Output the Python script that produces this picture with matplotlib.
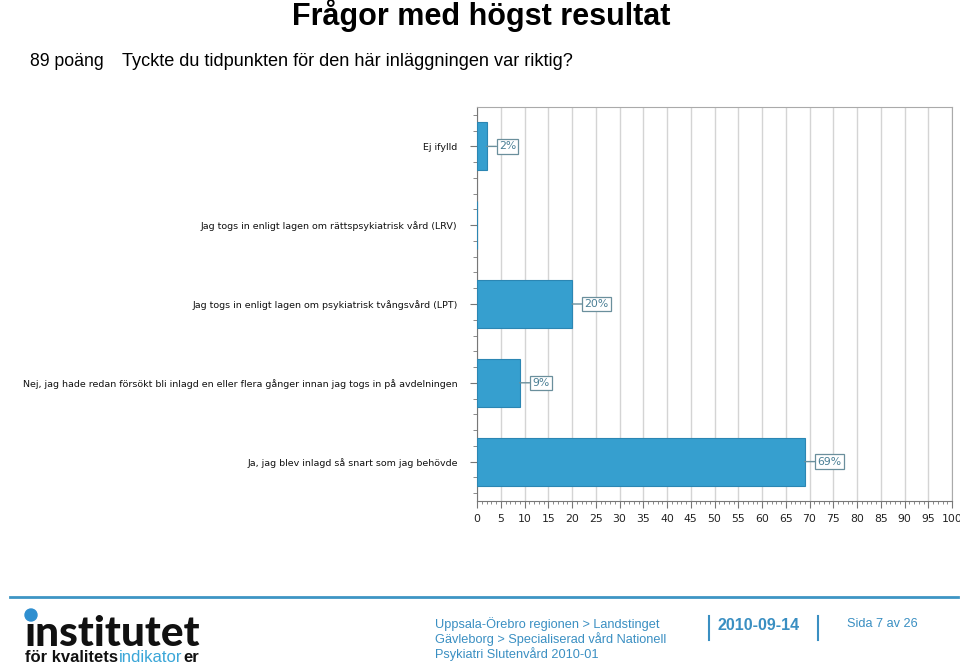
import matplotlib
matplotlib.use("Agg")
import matplotlib.pyplot as plt
from matplotlib.ticker import MultipleLocator
from matplotlib.patches import Ellipse

categories = [
    "Ej ifylld",
    "Jag togs in enligt lagen om rättspsykiatrisk vård (LRV)",
    "Jag togs in enligt lagen om psykiatrisk tvångsvård (LPT)",
    "Nej, jag hade redan försökt bli inlagd en eller flera gånger innan jag togs in på avdelningen",
    "Ja, jag blev inlagd så snart som jag behövde",
]
values = [2, 0, 20, 9, 69]
labels = ["2%", None, "20%", "9%", "69%"]
xticks = list(range(0, 101, 5))

W, H = 960, 666
fig = plt.figure(figsize=(W / 100, H / 100), dpi=100)

def fx(px):
    return px / W

def fy(py):
    return 1 - py / H

# Header texts
fig.text(fx(481), fy(16), "Frågor med högst resultat", ha="center", va="center",
         fontsize=22, fontweight="bold", family="Liberation Sans")
fig.text(fx(30), fy(62), "89 poäng", ha="left", va="center", fontsize=12.7,
         family="Liberation Sans")
fig.text(fx(122), fy(62), "Tyckte du tidpunkten för den här inläggningen var riktig?",
         ha="left", va="center", fontsize=13.1, family="Liberation Sans")

# Chart axes
left, right, top, bottom = 477, 952, 107, 501
ax = fig.add_axes([fx(left), fy(bottom), fx(right - left), (bottom - top) / H])
ypos = list(range(len(categories)))
bar_color = "#369fcf"
ax.barh(ypos, values, height=0.61, color=bar_color, edgecolor="#2b86b3", linewidth=0.8,
        zorder=3)
ax.set_ylim(len(categories) - 0.5, -0.5)
ax.set_xlim(0, 100)
ax.set_xticks(xticks)
ax.set_xticklabels([str(t) for t in xticks], family="DejaVu Sans", fontsize=7.8,
                   color="#222222")
ax.xaxis.set_minor_locator(MultipleLocator(1))
ax.set_yticks(ypos)
ax.set_yticklabels(categories, family="DejaVu Sans", fontsize=6.8, color="#111111")
ax.yaxis.set_minor_locator(MultipleLocator(0.2))
ax.tick_params(axis="x", which="major", length=5, color="#777777", pad=4)
ax.tick_params(axis="x", which="minor", length=2.5, color="#777777")
ax.tick_params(axis="y", which="major", length=5, color="#777777", pad=9)
ax.tick_params(axis="y", which="minor", length=3, color="#777777")
ax.grid(axis="x", which="major", color="#d4d4d4", linewidth=1, zorder=0)
for s in ["top", "right"]:
    ax.spines[s].set_color("#aaaaaa")
for s in ["left", "bottom"]:
    ax.spines[s].set_color("#777777")

for y, v, lab in zip(ypos, values, labels):
    if lab is None:
        continue
    ax.annotate(lab, xy=(v, y), xytext=(9, 0), textcoords="offset points",
                ha="left", va="center", fontsize=7.8, color="#4a7f95",
                family="DejaVu Sans",
                bbox=dict(boxstyle="square,pad=0.2", fc="white", ec="#6a8f9c", lw=0.9),
                arrowprops=dict(arrowstyle="-", color="#6a8f9c", lw=1,
                                shrinkA=0, shrinkB=0),
                zorder=4)

# Footer
blue = "#3a8fc2"
fig.add_artist(plt.Line2D([fx(10), fx(958)], [fy(597), fy(597)], color="#3d95c4", lw=2))
fig.text(fx(435), fy(624), "Uppsala-Örebro regionen > Landstinget", ha="left",
         va="center", fontsize=9.2, color=blue, family="Liberation Sans")
fig.text(fx(435), fy(639), "Gävleborg > Specialiserad vård Nationell", ha="left",
         va="center", fontsize=9.2, color=blue, family="Liberation Sans")
fig.text(fx(435), fy(654), "Psykiatri Slutenvård 2010-01", ha="left",
         va="center", fontsize=9.2, color=blue, family="Liberation Sans")
fig.add_artist(plt.Line2D([fx(709), fx(709)], [fy(616), fy(640)], color=blue, lw=1.5))
fig.add_artist(plt.Line2D([fx(818), fx(818)], [fy(616), fy(640)], color=blue, lw=1.5))
fig.text(fx(717), fy(626), "2010-09-14", ha="left", va="center", fontsize=11.5,
         fontweight="bold", color=blue, family="Liberation Sans")
fig.text(fx(847), fy(624), "Sida 7 av 26", ha="left", va="center", fontsize=9.2,
         color=blue, family="Liberation Sans")

# Logo
fig.text(fx(24), fy(634), "ınstitutet", ha="left", va="center", fontsize=30.5,
         fontweight="black", color="#111111", family="Lato")
fig.add_artist(Ellipse((fx(31), fy(615)), 12 / W, 12 / H, transform=fig.transFigure,
                       color="#2f8fd0"))
t1 = fig.text(fx(25), fy(658), "för kvalitets", ha="left", va="center", fontsize=12,
              fontweight="bold", color="#111111", family="Liberation Sans")
fig.canvas.draw()
r = fig.canvas.get_renderer()
bb = t1.get_window_extent(renderer=r)
t2 = fig.text((bb.x1 + 1) / W, fy(658), "indikator", ha="left", va="center", fontsize=12,
              color="#3aa6d8", family="Liberation Sans")
bb2 = t2.get_window_extent(renderer=r)
fig.text((bb2.x1 + 0.5) / W, fy(658), "er", ha="left", va="center", fontsize=12,
         fontweight="bold", color="#111111", family="Liberation Sans")

fig.savefig("out.png", dpi=100)
